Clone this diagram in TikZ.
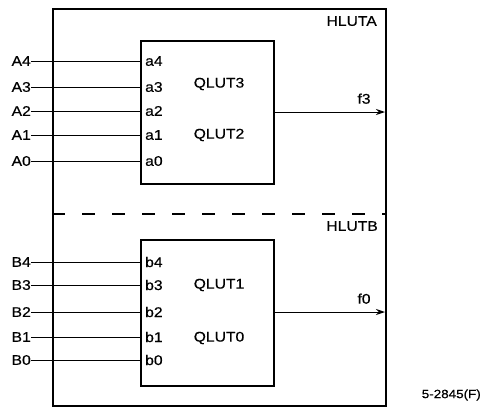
\documentclass[tikz,border=0pt]{standalone}
\usepackage{fontspec}
\setmainfont[FakeStretch=1.12, FakeBold=0.4]{Liberation Sans}
\usetikzlibrary{arrows.meta}
\tikzset{
  lbl/.style={inner sep=0pt, font=\fontsize{14}{15}\selectfont},
  small/.style={inner sep=0pt, font=\fontsize{12}{13}\selectfont},
  frame/.style={draw, line width=1.7pt},
  lut/.style={draw, line width=1.6pt, minimum width=133pt, anchor=north west, inner sep=0pt},
  wire/.style={line width=1pt},
  outw/.style={line width=1pt, -{Stealth[length=9pt,width=6pt]}}
}
\begin{document}
\begin{tikzpicture}[x=1pt,y=-1pt]
\useasboundingbox (0,0) rectangle (481,410);
% outer frame
\node[frame, minimum width=333pt, minimum height=397pt, anchor=north west, inner sep=0pt] (outer) at (52,8) {};
\coordinate (dl) at (52,214);
\coordinate (dr) at (385,214);
\draw[line width=1.3pt, dash pattern=on 13pt off 17pt] (dl) -- (dr);
\node[lbl, anchor=north east] (hluta) at (377,16) {HLUTA};
\node[lbl, anchor=north east] (hlutb) at (378,221) {HLUTB};
% LUT boxes
\node[lut, minimum height=143pt] (boxA) at (140,40) {};
\node[lut, minimum height=146pt] (boxB) at (140,239) {};
\node[lbl] (q3) at (219,84) {QLUT3};
\node[lbl] (q2) at (219,135) {QLUT2};
\node[lbl] (q1) at (219,285) {QLUT1};
\node[lbl] (q0) at (219,338) {QLUT0};
% inputs A
\foreach \i/\y in {4/61,3/87,2/111,1/135,0/161}{
  \node[lbl, anchor=east] (A\i) at (31,\y) {A\i};
  \node[lbl, anchor=west] (a\i) at (145,\y) {a\i};
  \coordinate (pa\i) at (140,\y);
  \draw[wire] (A\i.east) -- (pa\i);
}
% inputs B
\foreach \i/\y in {4/262,3/285,2/312,1/337,0/360}{
  \node[lbl, anchor=east] (B\i) at (31,\y) {B\i};
  \node[lbl, anchor=west] (b\i) at (145,\y) {b\i};
  \coordinate (pb\i) at (140,\y);
  \draw[wire] (B\i.east) -- (pb\i);
}
% outputs
\coordinate (oa) at (273,112);
\coordinate (ea) at (385,112);
\draw[outw] (oa) -- (ea);
\node[lbl, anchor=south] (f3) at (364,104) {f3};
\coordinate (ob) at (273,312);
\coordinate (eb) at (385,312);
\draw[outw] (ob) -- (eb);
\node[lbl, anchor=south] (f0) at (364,304) {f0};
% figure id
\node[small, anchor=east] (fid) at (481,395) {5-2845(F)};
\end{tikzpicture}
\end{document}
